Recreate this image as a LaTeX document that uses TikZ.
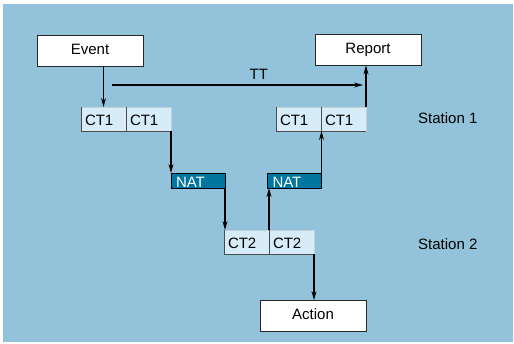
\documentclass[tikz,border=0pt]{standalone}
\usepackage{fontspec}
\setmainfont{Liberation Sans}
\usetikzlibrary{positioning,arrows.meta}
\definecolor{bgblue}{HTML}{93C3DA}
\definecolor{cellblue}{HTML}{D6ECF8}
\definecolor{natblue}{HTML}{0076A0}

\begin{document}
\begin{tikzpicture}[x=1pt, y=-1pt, >={Stealth[length=9pt,width=5pt]},
  font=\fontsize{15}{18}\selectfont,
  endbox/.style={rectangle, draw=black!85, fill=white, line width=0.8pt, minimum width=106pt, minimum height=31pt, inner sep=0pt, text height=11pt, text depth=4pt},
  cell/.style={rectangle, fill=cellblue, draw=cellblue!75!gray, line width=0.5pt, outer sep=0pt, minimum width=45pt, minimum height=24pt, inner ysep=0pt, inner xsep=4pt, text width=37pt, align=left, text height=13pt, text depth=1pt},
  nat/.style={rectangle, fill=natblue, draw=black, line width=0.8pt, outer sep=0pt, text=white, minimum height=15pt, inner ysep=0pt, inner xsep=5pt, text width=44pt, align=left, text height=14pt, text depth=0pt},
  cellline/.style={draw=black!70, line width=0.9pt},
  flow/.style={->, line width=1.1pt},
  station/.style={anchor=base west, inner sep=0pt}]
% background
\fill[white] (0,0) rectangle (514,343);
\fill[bgblue] (3,4) rectangle (513,342);

% end points
\node[endbox] (event) at (90,50.5) {Event};
\node[endbox] (report) at (368,49.5) {Report};
\node[endbox] (action) at (313,316) {Action};

% station 1
\node[cell] (ct1a) at (103.5,119) {CT1};
\node[cell, right=0pt of ct1a] (ct1b) {CT1};
\node[cell] (ct1c) at (298.5,119) {CT1};
\node[cell, right=0pt of ct1c] (ct1d) {CT1};

% network
\node[nat] (nata) at (198,180.5) {NAT};
\node[nat] (natb) at (294.5,180.5) {NAT};

% station 2
\node[cell] (ct2a) at (246.5,242) {CT2};
\node[cell, right=0pt of ct2a] (ct2b) {CT2};

\node[station] (st1) at (418,123) {Station 1};
\node[station] (st2) at (418,249) {Station 2};

% cell edges
\draw[cellline] (ct1a.north west) -- (ct1a.south west) -- (ct1b.south east);
\draw[cellline] (ct1b.north west) -- (ct1b.south west);
\draw[cellline] (ct1c.north west) -- (ct1c.south west) -- (ct1d.south east);
\draw[cellline] (ct1d.north west) -- (ct1d.south west);
\draw[cellline] (ct2a.north west) -- (ct2a.south west) -- (ct2b.south east);
\draw[cellline] (ct2b.north west) -- (ct2b.south west);

% flow
\coordinate (tta) at (112,85);
\coordinate (ttb) at (363,85);
\draw[flow] (tta) -- node[pos=0.585, above=2pt] (tt) {TT} (ttb);
\draw[flow] (event.south -| ct1a.north) -- (ct1a.north);
\draw[flow] (ct1b.south east) -- (nata.north west);
\draw[flow] (nata.south east) -- (nata.south east |- ct2a.north);
\draw[flow] (ct2b.north west) -- (ct2b.north west |- natb.south);
\draw[flow] (natb.north east) -- (natb.north east |- ct1d.south);
\draw[flow] (ct1d.north east) -- (ct1d.north east |- report.south);
\draw[flow] (ct2b.south east) -- (ct2b.south east |- action.north);
\end{tikzpicture}
\end{document}
